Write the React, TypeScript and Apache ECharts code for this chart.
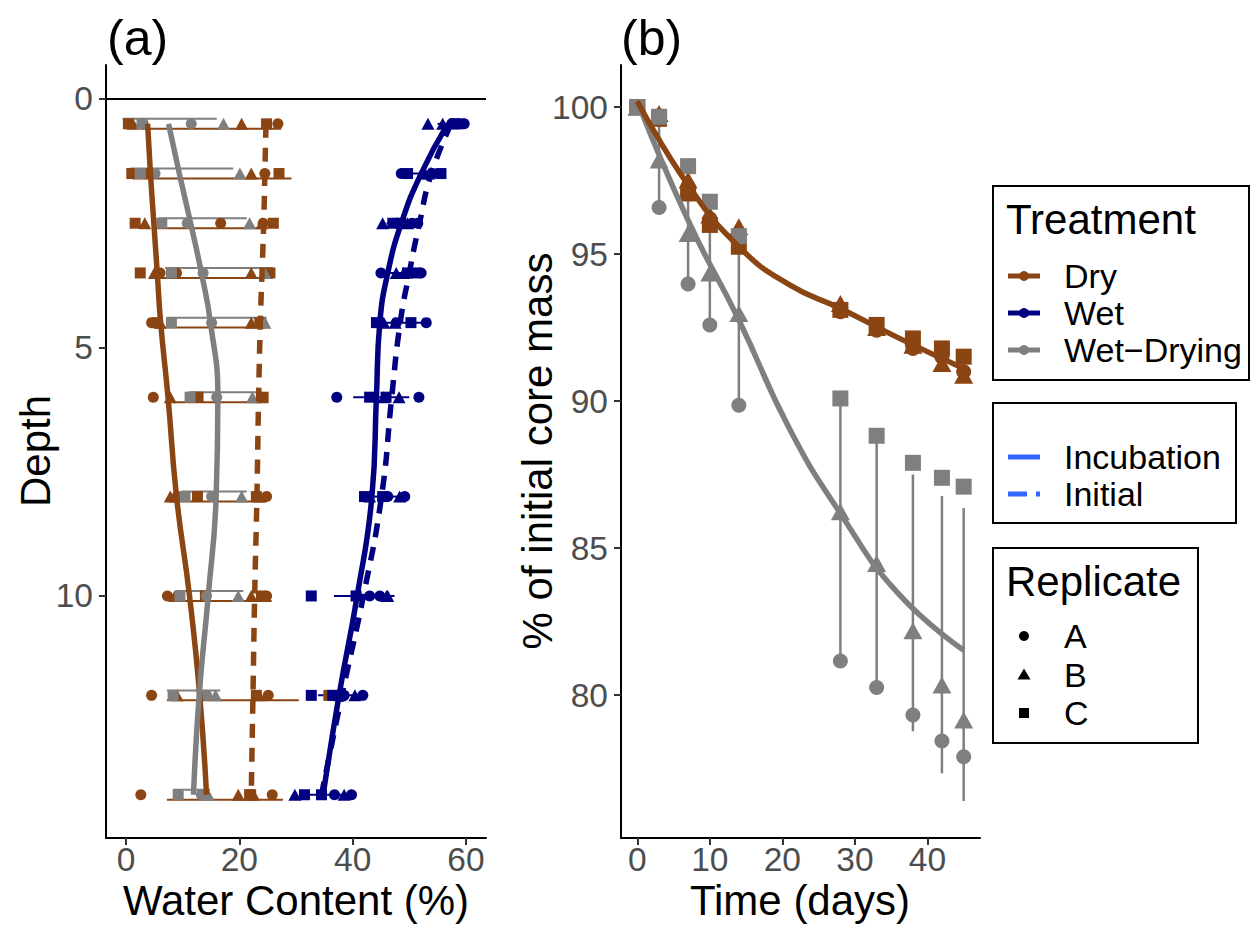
import React, { useEffect, useRef } from "react";
import * as echarts from "echarts";

// ---------------- Panel (a): water content vs depth ----------------
const DEPTHS = [0.5, 1.5, 2.5, 3.5, 4.5, 6, 8, 10, 12, 14];

// Dry treatment: incubation & initial, replicates A (circle), B (triangle), C (square)
const DRY_INC_A = [3.0, 3.5, 16.7, 6.0, 4.5, 4.8, 9.0, 7.3, 4.5, 2.6];
const DRY_INC_B = [1.2, 2.2, 3.3, 5.0, 6.0, 7.8, 7.8, 8.6, 9.0, 19.8];
const DRY_INC_C = [0.4, 1.0, 1.6, 2.5, 5.5, 12.7, 12.6, 14.0, 23.0, 21.8];
const DRY_INIT_A = [26.8, 24.5, 24.2, 8.9, 24.0, 23.9, 24.8, 24.8, 25.1, 25.8];
const DRY_INIT_B = [20.4, 22.1, 24.0, 22.1, 22.1, 24.0, 23.5, 22.1, 23.5, 22.5];
const DRY_INIT_C = [24.8, 27.0, 26.0, 25.4, 23.6, 24.2, 23.0, 23.9, 35.8, 22.0];

// Wet treatment
const WET_INC_A = [57.5, 48.6, 51.5, 45.0, 47.7, 37.2, 46.2, 43.0, 41.8, 36.8];
const WET_INC_B = [53.3, 53.5, 45.3, 47.7, 45.5, 45.5, 43.0, 46.2, 40.4, 29.8];
const WET_INC_C = [58.6, 49.7, 47.1, 49.7, 44.2, 43.0, 42.1, 32.7, 32.7, 31.5];
const WET_INIT_A = [59.7, 54.0, 50.5, 52.1, 53.0, 51.7, 49.2, 44.8, 38.5, 39.8];
const WET_INIT_B = [55.9, 52.8, 49.7, 49.0, 47.5, 48.2, 48.3, 46.0, 37.7, 38.5];
const WET_INIT_C = [58.0, 55.6, 48.5, 51.2, 50.3, 45.9, 45.3, 40.6, 36.5, 34.5];

// Wet-Drying treatment (incubation)
const WD_A = [11.5, 5.1, 10.8, 13.6, 15.1, 16.0, 15.1, 14.2, 14.2, 13.3];
const WD_B = [17.2, 20.1, 21.8, 24.5, 24.5, 22.3, 20.4, 19.8, 15.8, 14.5];
const WD_C = [2.8, 2.5, 6.3, 8.0, 8.0, 11.3, 10.4, 9.5, 8.3, 9.2];

// horizontal error bars (low / high)
const DRY_BAR_LO = [2.5, 3.1, 5.4, 4.5, 5.1, 8.3, 7.5, 8.9, 7.2, 7.2];
const DRY_BAR_HI = [27.4, 29.2, 24.8, 25.9, 24.8, 23.9, 24.8, 25.7, 30.5, 27.7];
const WET_BAR_LO = [55.0, 49.0, 46.0, 46.0, 44.2, 40.1, 43.0, 36.7, 33.9, 31.0];
const WET_BAR_HI = [59.0, 55.0, 51.0, 52.0, 53.0, 50.0, 48.0, 47.4, 42.7, 39.0];
const WD_BAR_LO = [-0.6, 0.7, 5.7, 6.9, 7.2, 11.0, 9.8, 8.9, 7.2, 8.3];
const WD_BAR_HI = [16.0, 18.9, 21.3, 25.9, 24.8, 23.0, 21.3, 20.7, 16.6, 14.8];

// fitted profiles (solid = incubation, dashed = initial)
const DRY_FIT_INC = [3.8, 4.3, 4.9, 5.5, 6.1, 7.4, 8.9, 11.2, 13.0, 14.2];
const DRY_FIT_INIT = [24.7, 24.5, 24.3, 24.0, 23.7, 23.4, 23.1, 22.7, 22.4, 22.1];
const WET_FIT_INC = [56.8, 52.1, 48.6, 46.2, 44.8, 44.2, 43.4, 40.8, 37.6, 34.8];
const WET_FIT_INIT = [57.4, 53.9, 51.8, 50.0, 48.4, 46.9, 45.1, 41.9, 38.1, 34.5];
const WD_FIT_INC = [7.5, 9.4, 11.4, 13.3, 14.9, 16.2, 15.9, 14.5, 12.9, 11.9];

const A_TICKS_X = [0, 20, 40, 60];
const A_TICKS_Y = [0, 5, 10];

// ---------------- Panel (b): core mass vs time ----------------
const TIMES = [0, 3, 7, 10, 14, 28, 33, 38, 42, 45];
const MASS_DRY_A = [100, 99.7, 97.3, 96.2, 95.5, 93.04, 92.41, 91.79, 91.5, 91.0];
const MASS_DRY_B = [100, 99.78, 97.52, 96.33, 95.93, 93.32, 92.5, 91.9, 91.28, 90.88];
const MASS_DRY_C = [100, 99.6, 97.06, 95.99, 95.25, 93.1, 92.59, 92.13, 91.79, 91.51];
const MASS_WD_A = [100, 96.58, 93.98, 92.59, 89.86, 81.16, 80.26, 79.32, 78.44, 77.9];
const MASS_WD_B = [100, 98.2, 95.7, 94.36, 92.98, 86.24, 84.48, 82.19, 80.34, 79.15];
const MASS_WD_C = [100, 99.67, 97.99, 96.78, 95.61, 90.09, 88.82, 87.9, 87.39, 87.09];

const FIT_TIMES = [0, 7, 14, 21, 28, 36, 45];
const MASS_DRY_FIT = [100.2, 97.35, 95.25, 93.95, 93.15, 92.15, 91.11];
const MASS_WD_FIT = [100.2, 96.15, 92.76, 89.05, 86.18, 83.45, 81.53];

const B_TICKS_X = [0, 10, 20, 30, 40];
const B_TICKS_Y = [80, 85, 90, 95, 100];

const TREATMENTS = ["Dry", "Wet", "Wet\u2212Drying"];
const LINETYPES = ["Incubation", "Initial"];
const REPLICATES = ["A", "B", "C"];

// ---------------- styling ----------------
const C_DRY = "#8B4513";
const C_WET = "#000080";
const C_WD = "#7F7F7F";
const C_KEY = "#3366FF";
const FONT = "'Liberation Sans', Arial, Helvetica, sans-serif";
const DODGE = 0.1;

const SYM_A = { A: "circle", B: "triangle", C: "rect" } as Record<string, string>;

function mean(v: number[]) {
  return v.reduce((s, x) => s + x, 0) / v.length;
}
function sd(v: number[]) {
  const m = mean(v);
  return Math.sqrt(v.reduce((s, x) => s + (x - m) * (x - m), 0) / (v.length - 1));
}

export default function App() {
  const ref = useRef<HTMLDivElement>(null);

  useEffect(() => {
    document.body.style.margin = "0";
    const chart = echarts.init(ref.current!, null, { renderer: "svg" });

    const symSizeA = (rep: string) =>
      rep === "B" ? [13, 12] : rep === "C" ? [11, 11] : 11;
    const symSizeB = (rep: string) =>
      rep === "B" ? [19, 17] : rep === "C" ? [16, 16] : 15;

    const series: any[] = [];

    // ---- Panel (a) points ----
    const aGroups: [string, string, number[][]][] = [
      [C_DRY, "A", [DRY_INC_A, DRY_INIT_A]],
      [C_DRY, "B", [DRY_INC_B, DRY_INIT_B]],
      [C_DRY, "C", [DRY_INC_C, DRY_INIT_C]],
      [C_WET, "A", [WET_INC_A, WET_INIT_A]],
      [C_WET, "B", [WET_INC_B, WET_INIT_B]],
      [C_WET, "C", [WET_INC_C, WET_INIT_C]],
      [C_WD, "A", [WD_A]],
      [C_WD, "B", [WD_B]],
      [C_WD, "C", [WD_C]],
    ];
    aGroups.forEach(([color, rep, arrs]) => {
      const data: number[][] = [];
      arrs.forEach((arr) => arr.forEach((v, i) => data.push([v, DEPTHS[i]])));
      series.push({
        type: "scatter",
        xAxisIndex: 0,
        yAxisIndex: 0,
        symbol: SYM_A[rep],
        symbolSize: symSizeA(rep),
        itemStyle: { color, opacity: 1 },
        data,
        silent: true,
      });
    });

    // ---- Panel (a) horizontal error bars ----
    const hBars: [string, number, number[], number[]][] = [
      [C_DRY, DODGE, DRY_BAR_LO, DRY_BAR_HI],
      [C_WET, 0, WET_BAR_LO, WET_BAR_HI],
      [C_WD, -DODGE, WD_BAR_LO, WD_BAR_HI],
    ];
    hBars.forEach(([color, off, lo, hi]) => {
      series.push({
        type: "custom",
        xAxisIndex: 0,
        yAxisIndex: 0,
        silent: true,
        encode: { x: [1, 2], y: 0 },
        data: DEPTHS.map((d, i) => [d + off, lo[i], hi[i]]),
        renderItem: (_p: any, api: any) => {
          const d = api.value(0);
          const p1 = api.coord([api.value(1), d]);
          const p2 = api.coord([api.value(2), d]);
          return {
            type: "line",
            shape: { x1: p1[0], y1: p1[1], x2: p2[0], y2: p2[1] },
            style: { stroke: color, lineWidth: 2 },
          };
        },
      });
    });

    // ---- Panel (a) fitted profiles ----
    const aFits: [string, number[], boolean][] = [
      [C_DRY, DRY_FIT_INC, false],
      [C_DRY, DRY_FIT_INIT, true],
      [C_WET, WET_FIT_INC, false],
      [C_WET, WET_FIT_INIT, true],
      [C_WD, WD_FIT_INC, false],
    ];
    aFits.forEach(([color, arr, dashed]) => {
      series.push({
        type: "line",
        xAxisIndex: 0,
        yAxisIndex: 0,
        silent: true,
        smooth: 0.5,
        showSymbol: false,
        symbol: "none",
        lineStyle: {
          color,
          width: 5.5,
          type: dashed ? [14, 10] : "solid",
          cap: "butt",
        },
        data: arr.map((v, i) => [v, DEPTHS[i]]),
      });
    });

    // surface reference line at depth 0
    series.push({
      type: "line",
      xAxisIndex: 0,
      yAxisIndex: 0,
      data: [],
      silent: true,
      markLine: {
        silent: true,
        symbol: "none",
        label: { show: false },
        lineStyle: { color: "#000", width: 2, type: "solid" },
        data: [{ yAxis: 0 }],
      },
    });

    // ---- Panel (b) points ----
    const bGroups: [string, string, number[]][] = [
      [C_DRY, "A", MASS_DRY_A],
      [C_DRY, "B", MASS_DRY_B],
      [C_DRY, "C", MASS_DRY_C],
      [C_WD, "A", MASS_WD_A],
      [C_WD, "B", MASS_WD_B],
      [C_WD, "C", MASS_WD_C],
    ];
    bGroups.forEach(([color, rep, arr]) => {
      series.push({
        type: "scatter",
        xAxisIndex: 1,
        yAxisIndex: 1,
        silent: true,
        symbol: SYM_A[rep],
        symbolSize: symSizeB(rep),
        itemStyle: { color, opacity: 1 },
        data: arr.map((v, i) => [TIMES[i], v]),
      });
    });

    // ---- Panel (b) vertical error bars (mean +/- sd) ----
    const vBars: [string, number[][]][] = [
      [C_DRY, [MASS_DRY_A, MASS_DRY_B, MASS_DRY_C]],
      [C_WD, [MASS_WD_A, MASS_WD_B, MASS_WD_C]],
    ];
    vBars.forEach(([color, reps]) => {
      const data = TIMES.map((t, i) => {
        const vals = reps.map((r) => r[i]);
        const m = mean(vals);
        const s = sd(vals);
        return [t, m - s, m + s];
      });
      series.push({
        type: "custom",
        xAxisIndex: 1,
        yAxisIndex: 1,
        silent: true,
        encode: { x: 0, y: [1, 2] },
        data,
        renderItem: (_p: any, api: any) => {
          const t = api.value(0);
          const p1 = api.coord([t, api.value(1)]);
          const p2 = api.coord([t, api.value(2)]);
          return {
            type: "line",
            shape: { x1: p1[0], y1: p1[1], x2: p2[0], y2: p2[1] },
            style: { stroke: color, lineWidth: 2.5 },
          };
        },
      });
    });

    // ---- Panel (b) fitted curves ----
    const bFits: [string, number[]][] = [
      [C_WD, MASS_WD_FIT],
      [C_DRY, MASS_DRY_FIT],
    ];
    bFits.forEach(([color, arr]) => {
      series.push({
        type: "line",
        xAxisIndex: 1,
        yAxisIndex: 1,
        silent: true,
        smooth: 0.5,
        showSymbol: false,
        symbol: "none",
        lineStyle: { color, width: 5.5, cap: "butt" },
        data: arr.map((v, i) => [FIT_TIMES[i], v]),
      });
    });

    const axisCommon = (ticks: number[]) => ({
      type: "value",
      splitLine: { show: false },
      axisLine: { show: true, onZero: false, lineStyle: { color: "#000", width: 2 } },
      axisTick: {
        show: true,
        length: 7,
        customValues: ticks,
        lineStyle: { color: "#333", width: 2 },
      },
      axisLabel: {
        customValues: ticks,
        fontSize: 33.5,
        fontFamily: FONT,
        color: "#4D4D4D",
      },
    });

    const xa0: any = axisCommon(A_TICKS_X);
    xa0.gridIndex = 0;
    xa0.min = -3.55;
    xa0.max = 63.55;
    xa0.axisLabel.margin = 4;
    const ya0: any = axisCommon(A_TICKS_Y);
    ya0.gridIndex = 0;
    ya0.min = -0.684;
    ya0.max = 14.87;
    ya0.inverse = true;
    ya0.axisLabel.margin = 13;
    const xa1: any = axisCommon(B_TICKS_X);
    xa1.gridIndex = 1;
    xa1.min = -2.25;
    xa1.max = 47.25;
    xa1.axisLabel.margin = 4;
    const ya1: any = axisCommon(B_TICKS_Y);
    ya1.gridIndex = 1;
    ya1.min = 75.14;
    ya1.max = 101.43;
    ya1.axisLabel.margin = 13;

    const txt = (
      text: string,
      x: number,
      y: number,
      size: number,
      align = "left",
      rotation = 0
    ) => ({
      type: "text",
      x,
      y,
      rotation,
      silent: true,
      style: {
        text,
        fontSize: size,
        fontFamily: FONT,
        fill: "#000",
        textAlign: align,
        textVerticalAlign: "middle",
      },
    });

    const graphic: any[] = [
      txt("(a)", 107, 38, 50),
      txt("(b)", 621, 38, 50),
      txt("Water Content (%)", 296, 900, 42, "center"),
      txt("Time (days)", 800, 900, 42, "center"),
      txt("Depth", 35, 451, 42, "center", Math.PI / 2),
      txt("% of initial core mass", 537, 451, 42, "center", Math.PI / 2),
    ];

    // legend 1: Treatment
    graphic.push({
      type: "rect",
      silent: true,
      shape: { x: 993, y: 186, width: 256, height: 194 },
      style: { fill: "#fff", stroke: "#000", lineWidth: 2 },
    });
    graphic.push(txt("Treatment", 1006, 219, 42));
    [C_DRY, C_WET, C_WD].forEach((c, i) => {
      const y = 276 + i * 37;
      graphic.push({
        type: "line",
        silent: true,
        shape: { x1: 1008, y1: y, x2: 1040, y2: y },
        style: { stroke: c, lineWidth: 5 },
      });
      graphic.push({
        type: "circle",
        silent: true,
        shape: { cx: 1024, cy: y, r: 5 },
        style: { fill: c },
      });
      graphic.push(txt(TREATMENTS[i], 1064, y, 34));
    });

    // legend 2: line type
    graphic.push({
      type: "rect",
      silent: true,
      shape: { x: 993, y: 403, width: 243, height: 120 },
      style: { fill: "#fff", stroke: "#000", lineWidth: 2 },
    });
    LINETYPES.forEach((lab, i) => {
      const y = 457 + i * 37;
      graphic.push({
        type: "line",
        silent: true,
        shape: { x1: 1008, y1: y, x2: 1040, y2: y },
        style: { stroke: C_KEY, lineWidth: 5, lineDash: i === 0 ? null : [19, 9] },
      });
      graphic.push(txt(lab, 1064, y, 34));
    });

    // legend 3: Replicate
    graphic.push({
      type: "rect",
      silent: true,
      shape: { x: 993, y: 548, width: 205, height: 195 },
      style: { fill: "#fff", stroke: "#000", lineWidth: 2 },
    });
    graphic.push(txt("Replicate", 1006, 581, 42));
    REPLICATES.forEach((lab, i) => {
      const y = 636 + i * 38.5;
      if (lab === "A") {
        graphic.push({ type: "circle", silent: true, shape: { cx: 1024, cy: y, r: 5 }, style: { fill: "#000" } });
      } else if (lab === "B") {
        graphic.push({
          type: "polygon",
          silent: true,
          shape: { points: [[1024, y - 6], [1030.5, y + 5], [1017.5, y + 5]] },
          style: { fill: "#000" },
        });
      } else {
        graphic.push({ type: "rect", silent: true, shape: { x: 1019, y: y - 5, width: 10, height: 10 }, style: { fill: "#000" } });
      }
      graphic.push(txt(lab, 1064, y, 34));
    });

    chart.setOption({
      animation: false,
      backgroundColor: "#fff",
      textStyle: { fontFamily: FONT },
      grid: [
        { left: 106, top: 65, width: 380, height: 773, containLabel: false, outerBoundsMode: "none" },
        { left: 621, top: 65, width: 359, height: 773, containLabel: false, outerBoundsMode: "none" },
      ],
      xAxis: [xa0, xa1],
      yAxis: [ya0, ya1],
      series,
      graphic,
    } as any);

    return () => chart.dispose();
  }, []);

  return <div ref={ref} style={{ width: 1258, height: 928 }} />;
}
